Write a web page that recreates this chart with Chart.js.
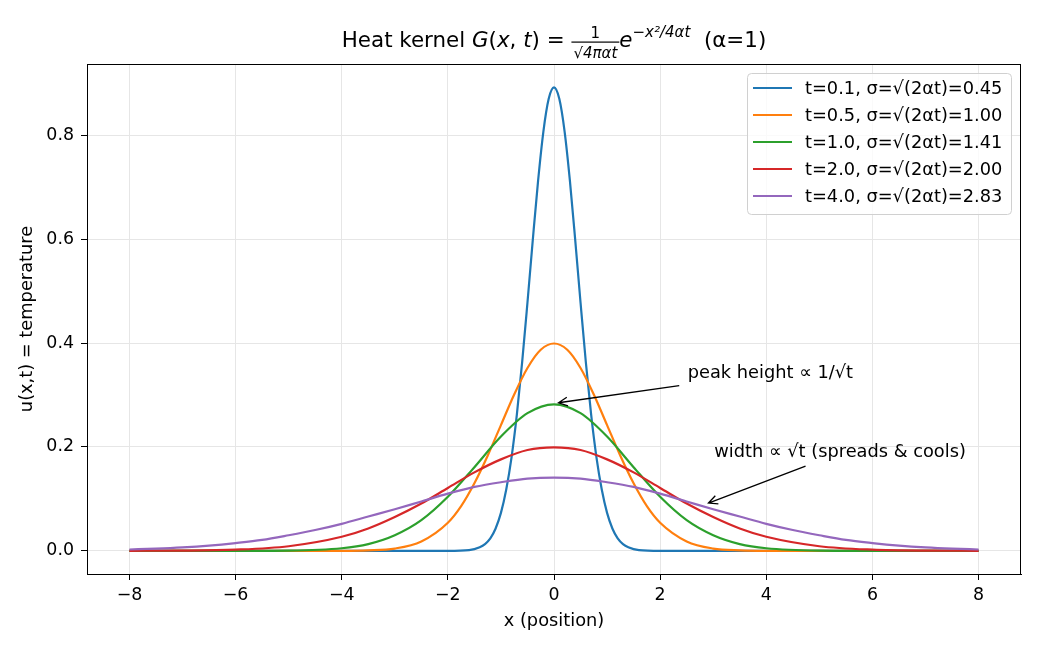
<!DOCTYPE html>
<html>
<head>
<meta charset="utf-8">
<script src="https://cdn.jsdelivr.net/npm/chart.js@4"></script>
<style>
  html, body { margin: 0; padding: 0; background: #fff; }
  #wrap { width: 1040px; height: 650px; }
</style>
</head>
<body>
<div id="wrap"><canvas id="myChart" width="1040" height="650"></canvas></div>
<script>
// values
const labels = [
  't=0.1, σ=√(2αt)=0.45',
  't=0.5, σ=√(2αt)=1.00',
  't=1.0, σ=√(2αt)=1.41',
  't=2.0, σ=√(2αt)=2.00',
  't=4.0, σ=√(2αt)=2.83',
];
const colours = ['#1f77b4', '#ff7f0e', '#2ca02c', '#d62728', '#9467bd'];

const xT01 = [-8, -2, -1.6, -1.4, -1.3, -1.2, -1.1, -1.0, -0.9, -0.8, -0.7, -0.6, -0.5, -0.4, -0.3, -0.2, -0.1, 0,
  0.1, 0.2, 0.3, 0.4, 0.5, 0.6, 0.7, 0.8, 0.9, 1.0, 1.1, 1.2, 1.3, 1.4, 1.6, 2, 8];
const yT01 = [0, 0, 0.0015, 0.007, 0.013, 0.024, 0.043, 0.073, 0.118, 0.180, 0.262, 0.363, 0.478, 0.598, 0.712, 0.807, 0.870, 0.892,
  0.870, 0.807, 0.712, 0.598, 0.478, 0.363, 0.262, 0.180, 0.118, 0.073, 0.043, 0.024, 0.013, 0.007, 0.0015, 0, 0];

const xT05 = [-8, -4, -3.5, -3, -2.5, -2, -1.75, -1.5, -1.25, -1, -0.75, -0.5, -0.25, 0,
  0.25, 0.5, 0.75, 1, 1.25, 1.5, 1.75, 2, 2.5, 3, 3.5, 4, 8];
const yT05 = [0, 0.0001, 0.0009, 0.0044, 0.018, 0.054, 0.086, 0.130, 0.183, 0.242, 0.301, 0.352, 0.387, 0.399,
  0.387, 0.352, 0.301, 0.242, 0.183, 0.130, 0.086, 0.054, 0.018, 0.0044, 0.0009, 0.0001, 0];

const xT1 = [-8, -6, -5, -4, -3.5, -3, -2.5, -2, -1.5, -1, -0.5, 0,
  0.5, 1, 1.5, 2, 2.5, 3, 3.5, 4, 5, 6, 8];
const yT1 = [0, 0, 0.0005, 0.005, 0.013, 0.030, 0.059, 0.104, 0.161, 0.220, 0.265, 0.282,
  0.265, 0.220, 0.161, 0.104, 0.059, 0.030, 0.013, 0.005, 0.0005, 0, 0];

const xT2 = [-8, -7, -6, -5, -4, -3.5, -3, -2.5, -2, -1.5, -1, -0.5, 0,
  0.5, 1, 1.5, 2, 2.5, 3, 3.5, 4, 5, 6, 7, 8];
const yT2 = [0.0001, 0.0004, 0.0022, 0.0088, 0.027, 0.043, 0.065, 0.091, 0.121, 0.151, 0.176, 0.194, 0.199,
  0.194, 0.176, 0.151, 0.121, 0.091, 0.065, 0.043, 0.027, 0.0088, 0.0022, 0.0004, 0.0001];

const xT4 = [-8, -7.5, -7, -6.5, -6, -5.5, -5, -4.5, -4, -3.5, -3, -2.5, -2, -1.5, -1, -0.5, 0,
  0.5, 1, 1.5, 2, 2.5, 3, 3.5, 4, 4.5, 5, 5.5, 6, 6.5, 7, 7.5, 8];
const yT4 = [0.0026, 0.0042, 0.0066, 0.0101, 0.015, 0.021, 0.030, 0.040, 0.052, 0.066, 0.080, 0.095, 0.110, 0.123, 0.132, 0.139, 0.141,
  0.139, 0.132, 0.123, 0.110, 0.095, 0.080, 0.066, 0.052, 0.040, 0.030, 0.021, 0.015, 0.0101, 0.0066, 0.0042, 0.0026];

const seriesX = [xT01, xT05, xT1, xT2, xT4];
const seriesY = [yT01, yT05, yT1, yT2, yT4];

const xTicks = [-8, -6, -4, -2, 0, 2, 4, 6, 8];
const yTicks = [0, 0.2, 0.4, 0.6, 0.8];

// annotation text anchors and arrows, in data units
const notes = [
  { text: 'peak height ∝ 1/√t', at: [2.52, 0.333], from: [2.36, 0.318], to: [0.085, 0.285] },
  { text: 'width ∝ √t (spreads & cools)', at: [3.02, 0.181], from: [4.74, 0.163], to: [2.91, 0.092] },
];

const FONT = '"DejaVu Sans", sans-serif';
const FS = 17.8;

const datasets = seriesX.map((xs, i) => ({
  label: labels[i],
  data: xs.map((x, j) => ({ x: x, y: seriesY[i][j] })),
  borderColor: colours[i],
  backgroundColor: colours[i],
  borderWidth: 2.2,
  pointRadius: 0,
  showLine: true,
  cubicInterpolationMode: 'monotone',
  order: 5 - i,
}));

function drawTitle(ctx, cx, base) {
  const big = 21.4, small = 15;
  const parts = [
    { t: 'Heat kernel ', f: big + 'px ' + FONT },
    { t: 'G', f: 'italic ' + big + 'px ' + FONT },
    { t: '(', f: big + 'px ' + FONT },
    { t: 'x', f: 'italic ' + big + 'px ' + FONT },
    { t: ', ', f: big + 'px ' + FONT },
    { t: 't', f: 'italic ' + big + 'px ' + FONT },
    { t: ') = ', f: big + 'px ' + FONT },
    { frac: true },
    { t: 'e', f: 'italic ' + big + 'px ' + FONT },
    { t: '−x²/4αt', f: 'italic ' + small + 'px ' + FONT, dy: -10 },
    { t: '  (α=1)', f: big + 'px ' + FONT },
  ];
  const numF = small + 'px ' + FONT;
  const denF = 'italic ' + small + 'px ' + FONT;
  ctx.font = denF;
  const denW = ctx.measureText('√4παt').width + 4;
  let total = 0;
  parts.forEach(p => {
    if (p.frac) { p.w = denW; } else { ctx.font = p.f; p.w = ctx.measureText(p.t).width; }
    total += p.w;
  });
  let x = cx - total / 2;
  ctx.fillStyle = '#000';
  ctx.textBaseline = 'alphabetic';
  ctx.textAlign = 'left';
  parts.forEach(p => {
    if (p.frac) {
      ctx.font = numF;
      ctx.textAlign = 'center';
      ctx.fillText('1', x + p.w / 2, base - 9);
      ctx.font = denF;
      ctx.fillText('√4παt', x + p.w / 2, base + 11);
      ctx.textAlign = 'left';
      ctx.fillRect(x, base - 5.5, p.w, 1.2);
    } else {
      ctx.font = p.f;
      ctx.fillText(p.t, x, base + (p.dy || 0));
    }
    x += p.w;
  });
}

function drawArrow(ctx, x1, y1, x2, y2) {
  ctx.beginPath();
  ctx.moveTo(x1, y1);
  ctx.lineTo(x2, y2);
  const a = Math.atan2(y2 - y1, x2 - x1);
  const L = 10, w = 0.45;
  ctx.moveTo(x2 - L * Math.cos(a - w), y2 - L * Math.sin(a - w));
  ctx.lineTo(x2, y2);
  ctx.lineTo(x2 - L * Math.cos(a + w), y2 - L * Math.sin(a + w));
  ctx.stroke();
}

const decorations = {
  id: 'decorations',
  afterDatasetsDraw(chart) {
    const { ctx, chartArea: ca, scales } = chart;
    const sx = scales.x, sy = scales.y;
    ctx.save();
    // spines
    ctx.strokeStyle = '#000';
    ctx.lineWidth = 1;
    ctx.strokeRect(ca.left + 0.5, ca.top + 0.5, ca.right - ca.left - 1, ca.bottom - ca.top);

    // annotations
    ctx.lineWidth = 1.3;
    ctx.font = FS + 'px ' + FONT;
    ctx.fillStyle = '#000';
    ctx.textAlign = 'left';
    ctx.textBaseline = 'alphabetic';
    notes.forEach(n => {
      ctx.fillText(n.text, sx.getPixelForValue(n.at[0]), sy.getPixelForValue(n.at[1]));
      drawArrow(ctx, sx.getPixelForValue(n.from[0]), sy.getPixelForValue(n.from[1]),
        sx.getPixelForValue(n.to[0]), sy.getPixelForValue(n.to[1]));
    });

    // legend
    const lx = 747, ly = 73, lw = 264, lh = 141;
    ctx.beginPath();
    ctx.roundRect(lx + 0.5, ly + 0.5, lw, lh, 4);
    ctx.fillStyle = 'rgba(255,255,255,0.8)';
    ctx.fill();
    ctx.strokeStyle = '#d0d0d0';
    ctx.lineWidth = 1;
    ctx.stroke();
    ctx.textBaseline = 'middle';
    chart.data.datasets.forEach((ds, i) => {
      const y = 88 + i * 27;
      ctx.strokeStyle = ds.borderColor;
      ctx.lineWidth = 2.2;
      ctx.beginPath();
      ctx.moveTo(753, y);
      ctx.lineTo(792, y);
      ctx.stroke();
      ctx.fillStyle = '#000';
      ctx.fillText(ds.label, 805, y + 1);
    });

    // axis titles
    ctx.textBaseline = 'alphabetic';
    ctx.textAlign = 'center';
    ctx.fillText('x (position)', (ca.left + ca.right) / 2, 626);
    ctx.save();
    ctx.translate(32, (ca.top + ca.bottom) / 2);
    ctx.rotate(-Math.PI / 2);
    ctx.fillText('u(x,t) = temperature', 0, 0);
    ctx.restore();

    drawTitle(ctx, (ca.left + ca.right) / 2, 47);
    ctx.restore();
  }
};

const config = {
  type: 'scatter',
  data: { datasets: datasets },
  options: {
    responsive: false,
    animation: false,
    devicePixelRatio: 1,
    layout: { padding: { top: 64, right: 19, left: 0, bottom: 0 } },
    plugins: { legend: { display: false }, title: { display: false }, tooltip: { enabled: false } },
    scales: {
      x: {
        type: 'linear',
        min: -8.8,
        max: 8.8,
        afterBuildTicks: axis => { axis.ticks = xTicks.map(v => ({ value: v })); },
        afterFit: axis => { axis.height = 76; },
        grid: { color: '#e6e6e6', lineWidth: 1, tickColor: '#000', tickLength: 6, drawTicks: true },
        border: { display: true, color: '#000', width: 1 },
        ticks: {
          color: '#000',
          font: { family: FONT, size: 17.4 },
          padding: 5,
          maxRotation: 0,
          callback: v => (v < 0 ? '−' + Math.abs(v) : String(v)),
        },
      },
      y: {
        type: 'linear',
        min: -0.0446,
        max: 0.937,
        afterBuildTicks: axis => { axis.ticks = yTicks.map(v => ({ value: v })); },
        afterFit: axis => { axis.width = 87; },
        grid: { color: '#e6e6e6', lineWidth: 1, tickColor: '#000', tickLength: 6, drawTicks: true },
        border: { display: true, color: '#000', width: 1 },
        ticks: {
          color: '#000',
          font: { family: FONT, size: 17.4 },
          padding: 7,
          callback: v => v.toFixed(1),
        },
      },
    },
  },
  plugins: [decorations],
};

const myChart = new Chart(document.getElementById('myChart'), config);
</script>
</body>
</html>
